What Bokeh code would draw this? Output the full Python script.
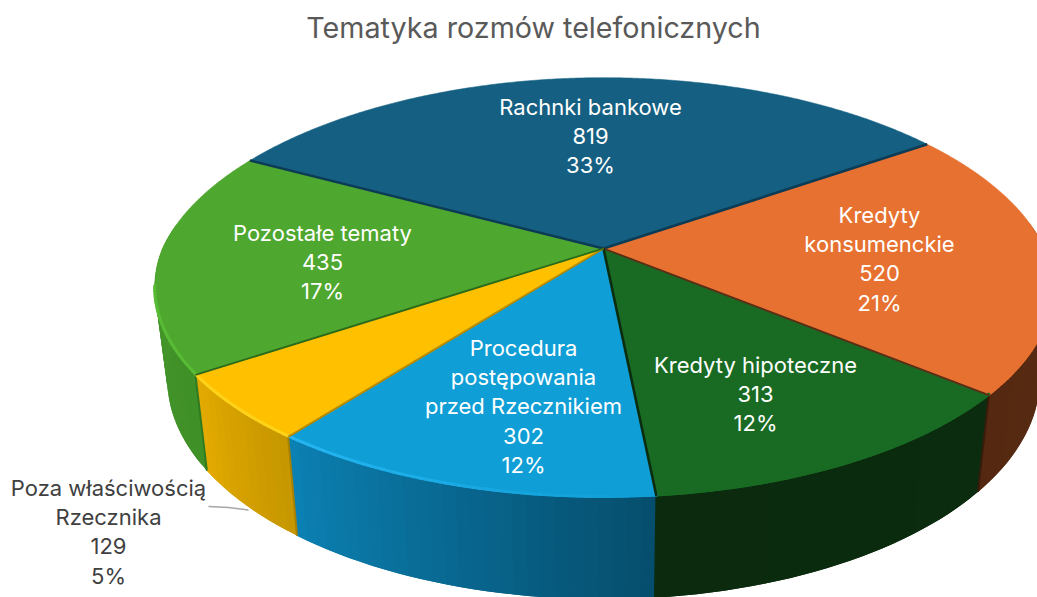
import math
from bokeh.plotting import figure
from bokeh.models import Range1d, ColumnDataSource
from bokeh.core.properties import value
from bokeh.embed import file_html
from bokeh.resources import INLINE

# ---- data
title_text = "Tematyka rozmów telefonicznych"
categories = ["Rachnki bankowe", "Kredyty konsumenckie", "Kredyty hipoteczne",
              "Procedura postępowania przed Rzecznikiem", "Poza właściwością Rzecznika", "Pozostałe tematy"]
calls = [819, 520, 313, 302, 129, 435]
label_lines = [["Rachnki bankowe"], ["Kredyty", "konsumenckie"], ["Kredyty hipoteczne"],
               ["Procedura", "postępowania", "przed Rzecznikiem"], ["Poza właściwością", "Rzecznika"], ["Pozostałe tematy"]]

# ---- styles
top_colors = ["#156082", "#E77131", "#196B24", "#0F9ED5", "#FFC000", "#4EA72E"]
side_from = ["#0b3a50", "#5c2d15", "#0b2c0f", "#064e6d", "#c79700", "#409028"]
side_to = ["#0b3a50", "#552911", "#0b2a0e", "#0b80b2", "#e2aa00", "#469a2b"]
rim_from = ["#156082", "#E77131", "#196B24", "#0F9ED5", "#ffd21a", "#58bb36"]
rim_to = ["#156082", "#E77131", "#196B24", "#25b6f2", "#ffd21a", "#58bb36"]
edge_colors = ["#0c3c55", "#0c3c55", "#5c2d15", "#0b2c0f", "#b58a00", "#2a6a1a"]  # radial edge at slice start
side_edge = ["#0b3a50", "#0b3a50", "#3a1c0c", "#0b2c0f", "#a88000", "#2f7a20"]
label_colors = ["white"] * 4 + ["#404040", "white"]
label_x = [590, 879, 755, 523, 108, 322]
label_top = [106, 214, 364, 347, 487, 232]
line_step = 29.4

# ---- projection of the tilted disc (page pixel space)
CX, CY = 603.0, 248.0
A, C, B = 441.0, 202.6, 0.186
START = 151.8
SHRINK = 0.972


def rim(deg):
    t = math.radians(deg)
    x, y = math.cos(t), math.sin(t)
    w = 1 + B * y
    return CX + A * x * (1 - 0.022 * max(0.0, y)) / w, CY - C * y / w


def low(deg):
    px, py = rim(deg)
    return CX + SHRINK * (px - CX), py + 77 + 0.05 * py


def hexmix(a, b, f):
    ca = [int(a[i:i + 2], 16) for i in (1, 3, 5)]
    cb = [int(b[i:i + 2], 16) for i in (1, 3, 5)]
    return "#%02x%02x%02x" % tuple(round(u + (v - u) * f) for u, v in zip(ca, cb))


p = figure(width=1037, height=597, x_range=Range1d(0, 1037), y_range=Range1d(597, 0),
           output_backend="svg", toolbar_location=None, min_border=0,
           x_axis_location=None, y_axis_location=None, outline_line_color=None,
           background_fill_color="white", border_fill_color="white")
p.grid.visible = False

total = sum(calls)
spans = []
a = START
for v in calls:
    b = a - 360.0 * v / total
    spans.append((a, b))
    a = b

# leader line (beneath the pie side)
p.line([208, 228, 248], [506, 507, 509.5], line_color="#a6a6a6", line_width=1.3)

# side wall: overlapping strips, each painted over by the next, so no seams show
sx, sy, sc = [], [], []
for i, (a, b) in enumerate(spans):
    n = max(2, int((a - b) / 1.5))
    for k in range(n):
        t0 = a + (b - a) * k / n
        t1 = a + (b - a) * min(n, k + 2) / n
        tm = (t0 + t1) / 2
        if math.sin(math.radians(tm)) > 0.12:
            continue
        ts = [t0, tm, t1]
        top = [rim(t) for t in ts]
        bot = [low(t) for t in reversed(ts)]
        sx.append([u[0] for u in top + bot])
        sy.append([u[1] for u in top + bot])
        sc.append(hexmix(side_from[i], side_to[i], k / max(1, n - 1)))
p.patches(sx, sy, fill_color=sc, line_color=None)

# vertical seams between the wall sections
for i, (a, b) in enumerate(spans):
    if math.sin(math.radians(a)) < 0:
        r, q = rim(a), low(a)
        p.line([r[0], q[0]], [r[1], q[1]], line_color=side_edge[i], line_width=2)

# top slices
for i, (a, b) in enumerate(spans):
    n = max(8, int((a - b) / 0.5))
    pts = [rim(a + (b - a) * k / n) for k in range(n + 1)]
    p.patch([CX] + [u[0] for u in pts], [CY] + [u[1] for u in pts],
            fill_color=top_colors[i], line_color=top_colors[i], line_width=0.5)

# light bevel along the front of the rim, fading where the reference fades
bx, by, bc = [], [], []
for i, (a, b) in enumerate(spans):
    n = max(8, int((a - b) / 0.75))
    for k in range(n):
        u, w = rim(a + (b - a) * k / n), rim(a + (b - a) * (k + 1) / n)
        if u[1] > 285 and w[1] > 285:
            bx.append([u[0], w[0]])
            by.append([u[1] - 1, w[1] - 1])
            bc.append(hexmix(rim_from[i], rim_to[i], k / (n - 1)))
p.multi_line(bx, by, line_color=bc, line_width=3, line_cap="round")

# dark edges along the radii
for i, (a, b) in enumerate(spans):
    r = rim(a)
    p.line([CX, r[0]], [CY, r[1]], line_color=edge_colors[i], line_width=2.6 if i in (0, 1, 3) else 1.8)

# labels
tx, ty, tt, tc = [], [], [], []
for i, v in enumerate(calls):
    lines = label_lines[i] + [str(v), f"{round(100 * v / total)}%"]
    for k, s in enumerate(lines):
        tx.append(label_x[i])
        ty.append(label_top[i] + k * line_step)
        tt.append(s)
        tc.append(label_colors[i])
p.text(x="x", y="y", text="t", text_color="c", source=ColumnDataSource(dict(x=tx, y=ty, t=tt, c=tc)),
       text_font=value("Inter"), text_font_size="22px", text_align="center", text_baseline="middle")
p.text(x=[533], y=[27], text=[title_text], text_color="#595959", text_font=value("Inter"),
       text_font_size="28.7px", text_align="center", text_baseline="middle")

open("out.html", "w").write(file_html(p, INLINE))
